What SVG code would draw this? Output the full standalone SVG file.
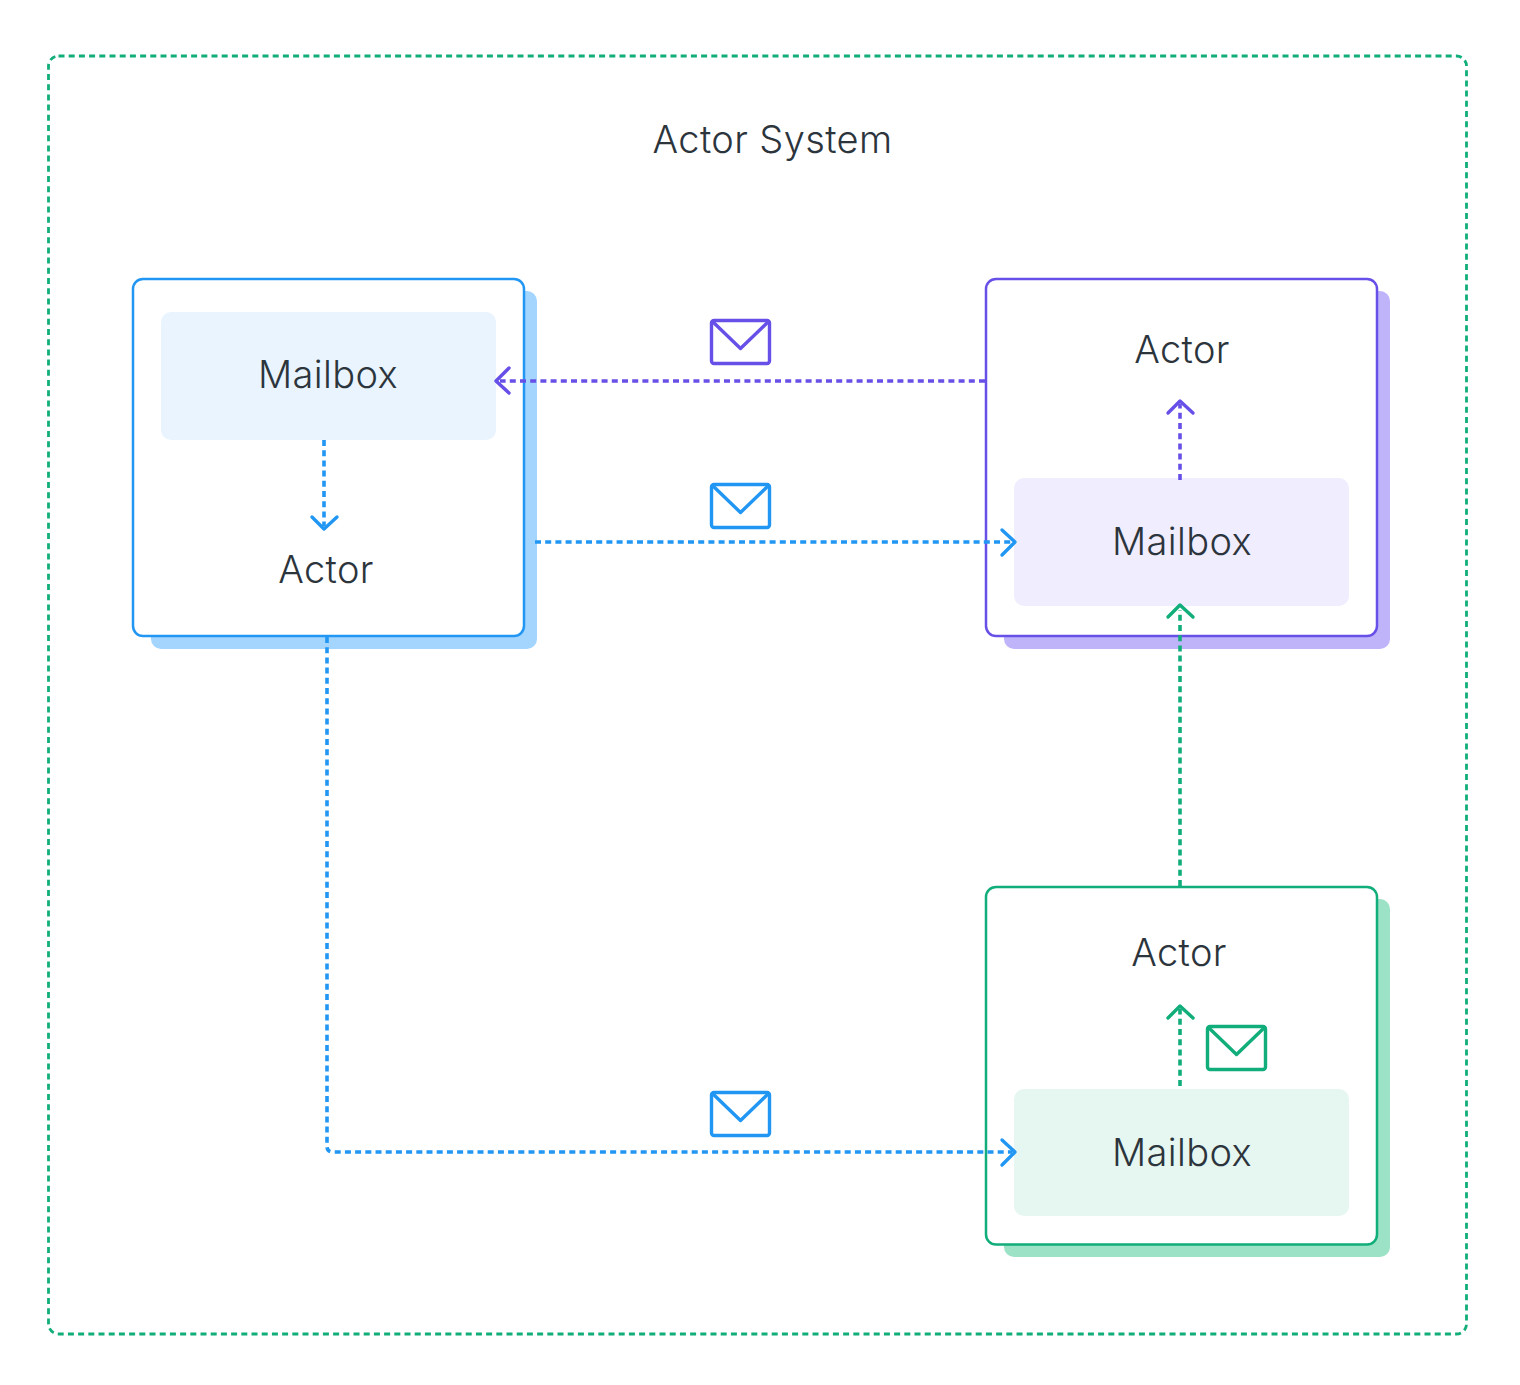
<svg xmlns="http://www.w3.org/2000/svg" width="1520" height="1385" viewBox="0 0 1520 1385">
<style>
.t{font-family:"Inter","Liberation Sans",sans-serif;font-size:38px;font-weight:300;letter-spacing:.38px;fill:#2c343c;text-anchor:middle}
.box{fill:#fff;stroke-width:2.5}
.d{fill:none;stroke-width:3.6;stroke-dasharray:6 4.2}
.a{fill:none;stroke-width:3.4;stroke-linecap:round;stroke-linejoin:round}
.e{fill:none;stroke-width:3.4;stroke-linejoin:round}
.blue{stroke:#2196f3}.purple{stroke:#6750e8}.green{stroke:#11ad7b}
</style>
<defs>
<g id="env"><rect x="0" y="0" width="58" height="43" rx="2.500"/><path d="M1 1L29 28L57 1"/></g>
</defs>
<rect width="1520" height="1385" fill="#fff"/>
<g id="system"><rect x="48.500" y="56" width="1418" height="1278" rx="10" fill="none" stroke="#11ad7b" stroke-width="2.800" stroke-dasharray="6 4.200"/>
<text class="t" x="772.500" y="153">Actor System</text></g>
<g id="actor-blue">
<rect x="151" y="291" width="386" height="358" rx="10" fill="#a3d5ff"/>
<rect class="box blue" x="133" y="279" width="391" height="357" rx="10"/>
<rect x="161" y="312" width="335" height="128" rx="10" fill="#e9f4fe"/>
<text class="t" x="328" y="388">Mailbox</text>
<text class="t" x="326" y="583">Actor</text>
</g>
<g id="actor-purple">
<rect x="1004" y="291" width="386" height="358" rx="10" fill="#bfb4fa"/>
<rect class="box purple" x="986" y="279" width="391" height="357" rx="10"/>
<rect x="1014" y="478" width="335" height="128" rx="10" fill="#f0edfe"/>
<text class="t" x="1182" y="555">Mailbox</text>
<text class="t" x="1182" y="363">Actor</text>
</g>
<g id="actor-green">
<rect x="1004" y="899" width="386" height="358" rx="10" fill="#9be2c6"/>
<rect class="box green" x="986" y="887" width="391" height="357.500" rx="10"/>
<rect x="1014" y="1089" width="335" height="127" rx="10" fill="#e6f6f1"/>
<text class="t" x="1182" y="1166">Mailbox</text>
<text class="t" x="1179" y="966">Actor</text>
</g>
<g id="connectors">
<path class="d purple" d="M985 381H500"/><path class="a purple" d="M509 368L496 381L509 393"/>
<path class="d blue" d="M535 542H1012"/><path class="a blue" d="M1002 530L1015 542L1002 555"/>
<path class="d blue" d="M324 440V526"/><path class="a blue" d="M312 517L324 529L337 517"/>
<path class="d purple" d="M1180 480V404"/><path class="a purple" d="M1168 413L1180 401L1193 413"/>
<path class="d green" d="M1180 886V610"/><path class="a green" d="M1168 617L1180 605L1193 617"/>
<path class="d green" d="M1180 1086V1009"/><path class="a green" d="M1168 1018L1180 1006L1193 1018"/>
<path class="d blue" d="M327 637V1146Q327 1152 333 1152H1012"/><path class="a blue" d="M1002 1140L1015 1152L1002 1165"/>
</g>
<g id="envelope-1"><use href="#env" class="e purple" x="711.500" y="320.500"/></g>
<g id="envelope-2"><use href="#env" class="e blue" x="711.500" y="484.500"/></g>
<g id="envelope-3"><use href="#env" class="e blue" x="711.500" y="1092.500"/></g>
<g id="envelope-4"><use href="#env" class="e green" x="1207.500" y="1026.500"/></g>
</svg>
